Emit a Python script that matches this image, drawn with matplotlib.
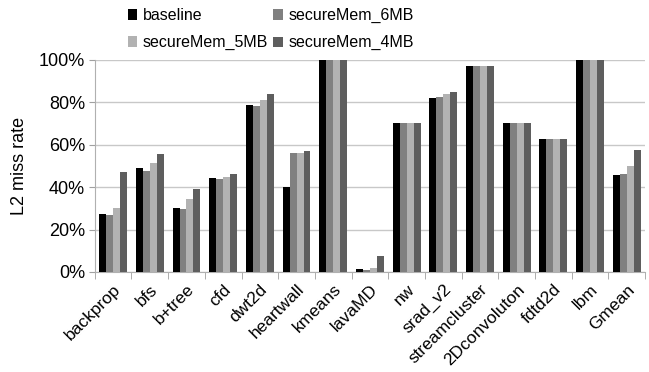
import numpy as np
import matplotlib.pyplot as plt
from matplotlib.ticker import PercentFormatter

plt.rcParams['font.family'] = ['Liberation Sans', 'DejaVu Sans']

benchmarks = ['backprop', 'bfs', 'b+tree', 'cfd', 'dwt2d', 'heartwall', 'kmeans',
              'lavaMD', 'nw', 'srad_v2', 'streamcluster', '2Dconvoluton', 'fdtd2d',
              'lbm', 'Gmean']
baseline = [27.5, 49.0, 30.2, 44.4, 78.9, 40.0, 100, 1.3, 70.4, 81.9, 97.2, 70.1, 62.8, 100, 45.5]
mem_6mb = [27.0, 47.4, 29.9, 43.6, 78.1, 55.9, 100, 1.1, 70.4, 82.7, 97.2, 70.1, 62.8, 100, 46.3]
mem_5mb = [30.2, 51.2, 34.5, 44.7, 81.0, 55.9, 100, 2.0, 70.4, 83.8, 97.2, 70.1, 62.8, 100, 49.8]
mem_4mb = [47.2, 55.4, 39.0, 46.0, 84.1, 57.0, 100, 7.6, 70.4, 85.0, 97.2, 70.1, 62.8, 100, 57.5]

series = [('baseline', baseline, '#000000'),
          ('secureMem_6MB', mem_6mb, '#808080'),
          ('secureMem_5MB', mem_5mb, '#b2b2b2'),
          ('secureMem_4MB', mem_4mb, '#5e5e5e')]

fig = plt.figure(figsize=(6.49, 3.72), dpi=100)
ax = fig.add_axes([0.146, 0.269, 0.848, 0.570])

x = np.arange(len(benchmarks))
w = 0.19
bars = {}
for i, (name, vals, col) in enumerate(series):
    bars[name] = ax.bar(x + (i - 1.5) * w, vals, w, color=col, label=name, zorder=3)

ax.set_xlim(-0.5, len(benchmarks) - 0.5)
ax.set_ylim(0, 100)
ax.set_yticks(np.arange(0, 101, 20))
ax.yaxis.set_major_formatter(PercentFormatter(decimals=0))
ax.grid(axis='y', color='#c8c8c8', linewidth=1, zorder=0)

ax.set_xticks(x)
ax.set_xticklabels(benchmarks, rotation=45, ha='right', rotation_mode='anchor', fontsize=12.5)
ax.tick_params(axis='x', which='major', length=0, pad=7)
ax.set_xticks(np.arange(-0.5, len(benchmarks), 1), minor=True)
ax.tick_params(axis='x', which='minor', length=5, color='#a0a0a0')
ax.tick_params(axis='y', length=4, color='#a0a0a0', labelsize=13, pad=3)

for s in ['top', 'right']:
    ax.spines[s].set_visible(False)
ax.spines['left'].set_color('#b0b0b0')
ax.spines['bottom'].set_color('#b0b0b0')

ax.set_ylabel('L2 miss rate', fontsize=13, labelpad=8)

# legend: two columns above the plot
order = ['baseline', 'secureMem_5MB', 'secureMem_6MB', 'secureMem_4MB']
fig.legend([bars[n] for n in order], order, ncol=2, loc='upper left',
           bbox_to_anchor=(0.197, 0.978), frameon=False, fontsize=11.5,
           borderpad=0, borderaxespad=0,
           handlelength=0.6, handleheight=0.6, handletextpad=0.35,
           columnspacing=0.3, labelspacing=0.75)

fig.savefig('out.png', dpi=100)
